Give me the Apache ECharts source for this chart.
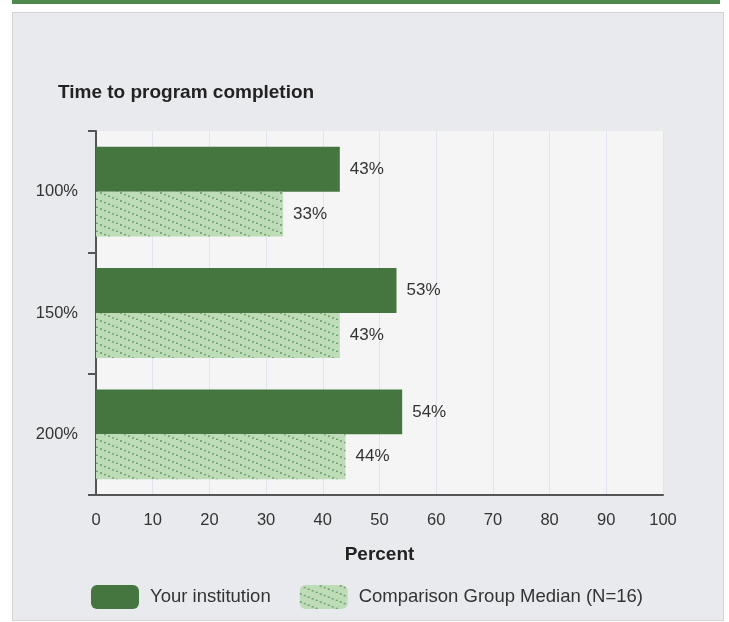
<!DOCTYPE html>
<html>
<head>
<meta charset="utf-8">
<script src="https://cdn.jsdelivr.net/npm/echarts@6/dist/echarts.min.js"></script>
<style>
  html, body { margin: 0; padding: 0; background: #fff; }
  #topbar { position: absolute; left: 12px; top: 0; width: 708px; height: 4px; background: #4e8a4b; }
  #panel { position: absolute; left: 12px; top: 12px; width: 710px; height: 607px; background: #e9eaee; border: 1px solid #d3d3d3; }
  #chart { position: absolute; left: 0; top: 0; width: 729px; height: 622px; }
</style>
</head>
<body>
<div id="topbar"></div>
<div id="panel"></div>
<div id="chart"></div>
<script>
// data
const categories = ['100%', '150%', '200%'];
const yourInstitution = [43, 53, 54];
const comparisonMedian = [33, 43, 44];
const seriesNames = ['Your institution', 'Comparison Group Median (N=16)'];

const darkGreen = '#45763f';

// dotted diagonal hatch for the comparison bars
function makeHatch() {
  const c = document.createElement('canvas');
  c.width = 20;
  c.height = 8;
  const ctx = c.getContext('2d');
  ctx.fillStyle = '#bfdcb9';
  ctx.fillRect(0, 0, 20, 8);
  ctx.fillStyle = '#5b9656';
  for (let i = 0; i < 5; i++) {
    ctx.beginPath();
    ctx.arc(i * 4 + 1, i * 1.6 + 1, 0.9, 0, Math.PI * 2);
    ctx.fill();
  }
  return c;
}
const hatch = { image: makeHatch(), repeat: 'repeat' };

const chart = echarts.init(document.getElementById('chart'), null, { renderer: 'canvas' });

const labelStyle = {
  show: true,
  position: 'right',
  distance: 10,
  formatter: '{c}%',
  fontSize: 17,
  color: '#333'
};

chart.setOption({
  backgroundColor: 'transparent',
  textStyle: { fontFamily: 'Arial, Liberation Sans, sans-serif' },
  title: {
    text: 'Time to program completion',
    left: 58,
    top: 83,
    padding: 0,
    textStyle: { fontSize: 19, fontWeight: 'bold', color: '#222' }
  },
  grid: {
    left: 96,
    right: 66,
    top: 131,
    bottom: 127,
    show: true,
    backgroundColor: '#f5f5f5',
    borderWidth: 0
  },
  legend: {
    left: 91,
    top: 585,
    padding: 0,
    itemWidth: 48,
    itemHeight: 24,
    itemGap: 29,
    icon: 'roundRect',
    textStyle: { fontSize: 18.5, color: '#333', padding: [0, 0, 0, 6] },
    data: seriesNames
  },
  xAxis: {
    type: 'value',
    min: 0,
    max: 100,
    interval: 10,
    name: 'Percent',
    nameLocation: 'middle',
    nameGap: 50,
    nameTextStyle: { fontSize: 19, fontWeight: 'bold', color: '#222' },
    axisLine: { show: true, lineStyle: { color: '#555', width: 2 } },
    axisTick: { show: false },
    axisLabel: { fontSize: 16.5, color: '#333', margin: 17 },
    splitLine: { show: true, lineStyle: { color: '#dfe4ee', width: 1 } }
  },
  yAxis: {
    type: 'category',
    inverse: true,
    data: categories,
    axisLine: { show: true, lineStyle: { color: '#555', width: 2 } },
    axisTick: { show: true, length: 8, lineStyle: { color: '#555', width: 2 } },
    axisLabel: { fontSize: 16.5, color: '#333', margin: 18 }
  },
  series: [
    {
      name: seriesNames[0],
      type: 'bar',
      data: yourInstitution,
      barGap: '0%',
      barCategoryGap: '26%',
      itemStyle: { color: darkGreen },
      label: labelStyle
    },
    {
      name: seriesNames[1],
      type: 'bar',
      data: comparisonMedian,
      itemStyle: { color: hatch },
      label: labelStyle
    }
  ]
});
</script>
</body>
</html>
